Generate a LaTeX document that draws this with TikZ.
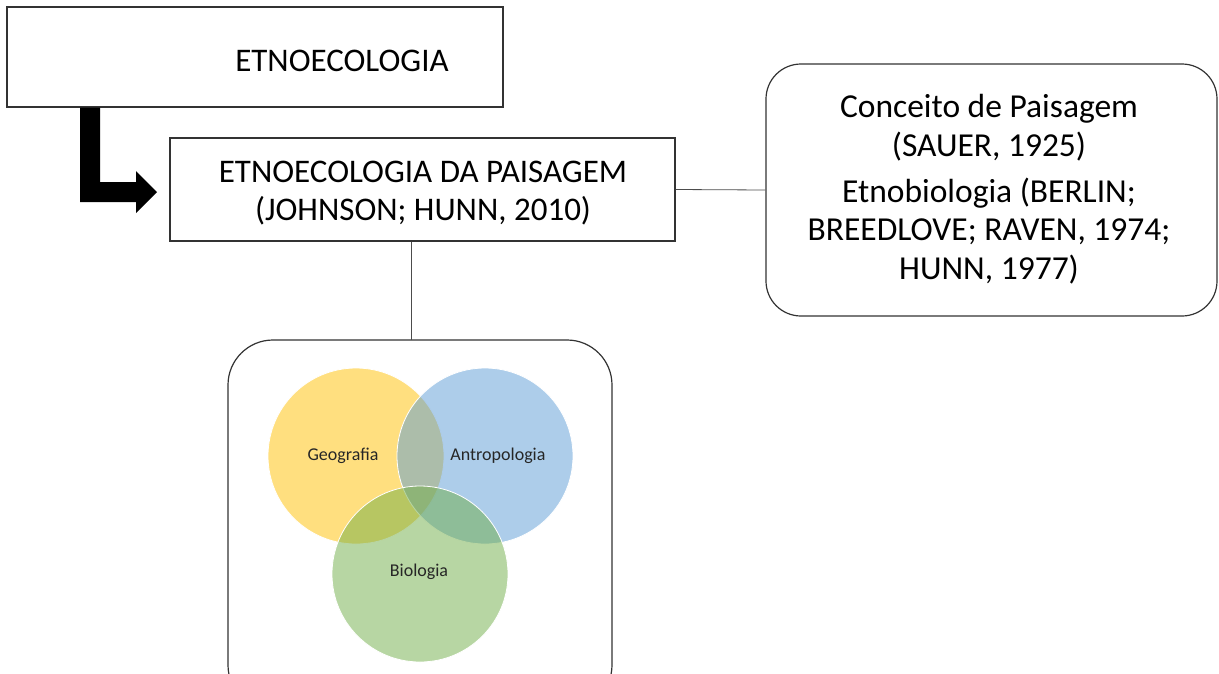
\documentclass[tikz,border=0pt]{standalone}
\usepackage{fontspec}
\setmainfont{Carlito}
\definecolor{vgold}{RGB}{255,192,0}
\definecolor{vblue}{RGB}{91,155,213}
\definecolor{vgreen}{RGB}{112,173,71}
\begin{document}
\begin{tikzpicture}[x=1pt,y=-1pt,
  boxframe/.style={draw=black!80, line width=1.3pt, rectangle, inner sep=0pt},
  roundframe/.style={draw=black!80, line width=1.2pt, rounded corners=#1},
  bigtext/.style={font=\fontsize{33}{38.5}\selectfont, align=center, inner sep=0pt},
  vennlabel/.style={font=\fontsize{18}{22}\selectfont, text=black!85, inner sep=0pt},
  venn/.style={circle, minimum size=176pt, inner sep=0pt, fill=#1, fill opacity=0.5, draw=white, line width=0.8pt},
  link/.style={draw=black!70, line width=0.8pt},
]
\useasboundingbox (0,0) rectangle (1219,673);
\clip (0,0) rectangle (1219,673);

% top box
\node[boxframe, minimum width=496pt, minimum height=100pt] (b1) at (255,57) {};
\node[bigtext] (t1) at (342,61) {ETNOECOLOGIA};

% second box
\node[boxframe, minimum width=505pt, minimum height=103pt] (b2) at (422.5,189.5) {};
\node[bigtext] (t2) at (423,193) {ETNOECOLOGIA DA PAISAGEM\\(JOHNSON; HUNN, 2010)};

% right rounded box
\node[roundframe=35pt, minimum width=451pt, minimum height=252pt] (b3) at (991.5,190) {};
\node[bigtext, font=\fontsize{33.5}{38.5}\selectfont] (t3) at (989,189)
  {Conceito de Paisagem\\(SAUER, 1925)\\[7.5pt]Etnobiologia (BERLIN;\\BREEDLOVE; RAVEN, 1974;\\HUNN, 1977)};

% bent block arrow from the top box to the second box
\fill[black] (b1.south -| 80,0) -- (b1.south -| 100,0) -- (100,182) -- (136,182) -- (136,171)
  -- (157,192) -- (136,213) -- (136,202) -- (80,202) -- cycle;

% connector to the right box
\draw[link] (b2.east) -- (b3.west);

% container of the Venn diagram
\draw[roundframe=45pt] (228,340) rectangle (612,710);
\coordinate (vtop) at (411,340);
\draw[link] (vtop |- b2.south) -- (vtop);

% Venn diagram
\node[venn=vgold] (geo) at (356,456) {};
\node[venn=vblue] (antro) at (485,456) {};
\node[venn=vgreen] (bio) at (420,574) {};
\node[vennlabel] (lgeo) at (343,456) {Geografia};
\node[vennlabel] (lantro) at (498,456) {Antropologia};
\node[vennlabel] (lbio) at (419,572) {Biologia};
\end{tikzpicture}
\end{document}
